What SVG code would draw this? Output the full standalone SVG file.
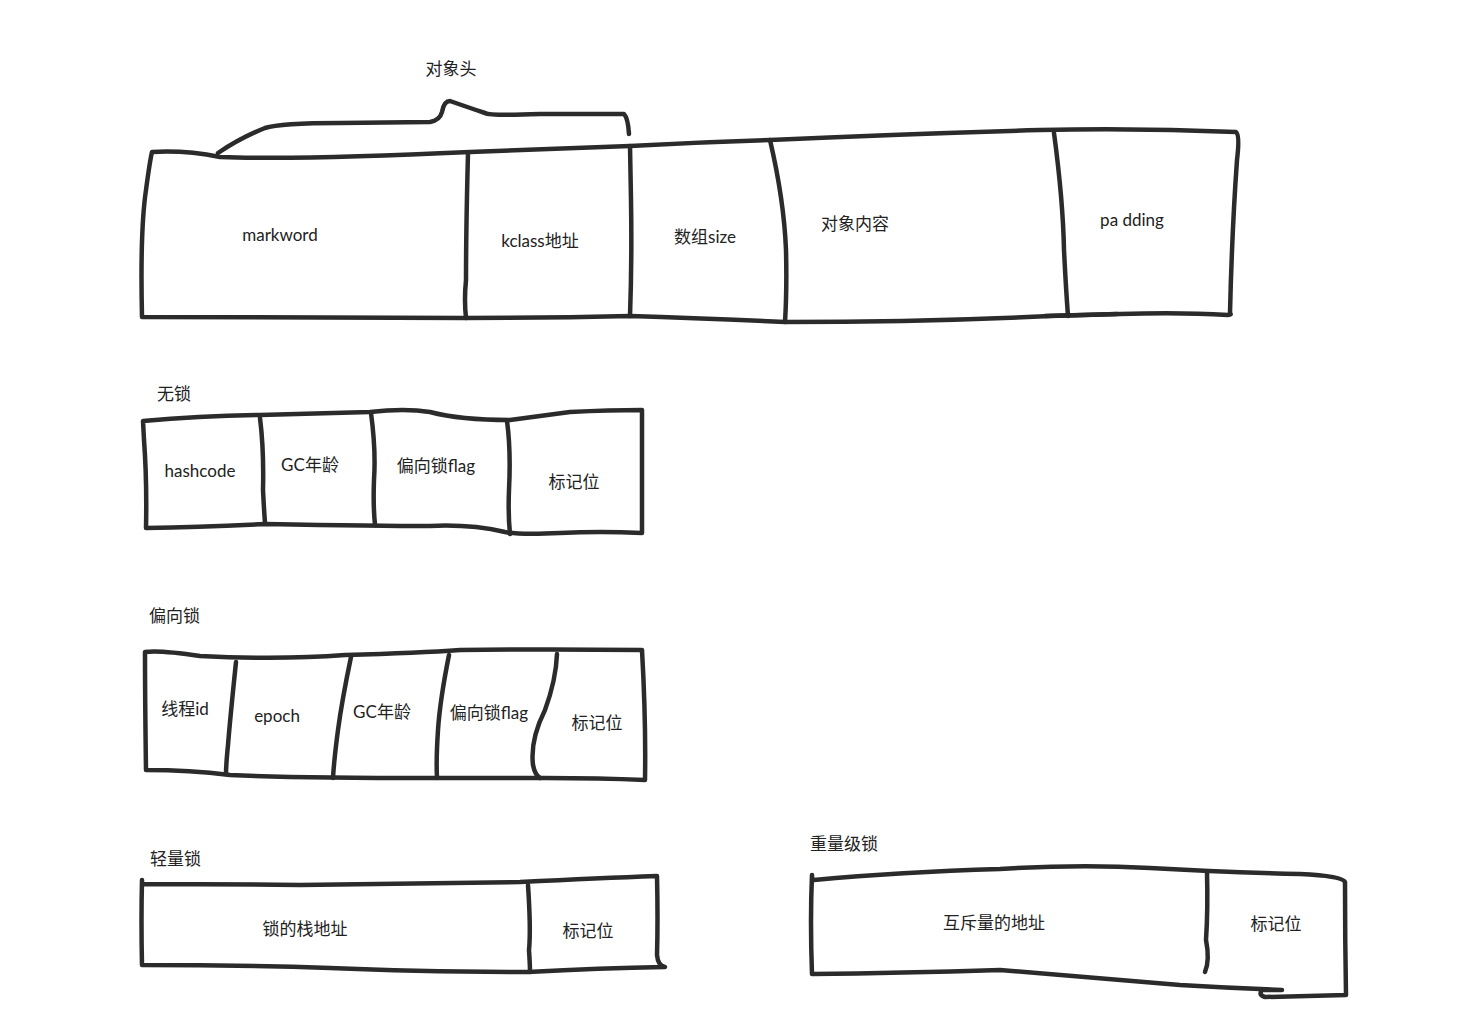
<svg xmlns="http://www.w3.org/2000/svg" width="1460" height="1033" viewBox="0 0 1460 1033">
<style>
.s{fill:none;stroke:#2b2b2b;stroke-width:4.5;stroke-linecap:round;stroke-linejoin:round}
.t{font-family:Lato,"Noto Sans CJK SC",sans-serif;font-size:17px;fill:#222;text-anchor:middle;dominant-baseline:central}
.l{font-family:Lato,"Noto Sans CJK SC",sans-serif;font-size:17px;fill:#222;dominant-baseline:central}
</style>
<rect width="1460" height="1033" fill="#fff"/>
<g id="object-header">
<path class="s" d="M218,153 Q240,138 265,128 Q280,123 340,123 L430,122 Q440,120 442,112 Q444,101 450,101 Q470,108 485,113 Q490,116 540,114 L624,114 Q628,118 629,134"/>
<text class="t" x="451" y="68">对象头</text>
</g>
<g id="object-layout">
<path class="s" d="M152,152 Q185,150 220,157 Q300,160 470,152 Q550,149 630,146 Q700,142 770,140 Q900,134 1040,130 Q1140,128 1236,132 Q1240,135 1237,160 Q1232,230 1230,313 Q1232,315 1228,315 Q1180,312 1120,314 L1050,316 Q920,322 785,322 Q700,318 630,316 Q550,318 465,318 L142,317 Q140,230 146,190 Q150,160 152,152 Z"/>
<path class="s" d="M468,153 Q466,230 466,280 Q464,300 466,318"/>
<path class="s" d="M630,146 L631,200 Q632,260 630,316"/>
<path class="s" d="M770,140 Q784,200 786,250 Q787,290 785,322"/>
<path class="s" d="M1054,133 Q1063,200 1064,250 Q1066,290 1068,316"/>
<path class="s" d="M1045,316 L1117,314"/>
<text class="t" x="280" y="234">markword</text>
<text class="t" x="540" y="240">kclass地址</text>
<text class="t" x="705" y="236">数组size</text>
<text class="t" x="855" y="223">对象内容</text>
<text class="t" x="1132" y="219">pa dding</text>
</g>
<g id="no-lock">
<text class="l" x="157" y="393">无锁</text>
<path class="s" d="M143,421 Q200,416 260,415 Q330,413 370,412 Q405,408 430,412 Q460,420 510,420 Q540,416 570,412 Q610,410 642,410 L642,533 Q600,531 560,533 Q520,535 505,532 Q470,524 430,526 Q380,526 265,524 Q200,527 146,528 Q147,480 144,440 Z"/>
<path class="s" d="M260,418 Q264,450 263,490 Q264,510 265,523"/>
<path class="s" d="M371,413 Q376,450 374,480 Q373,505 375,525"/>
<path class="s" d="M507,421 Q511,450 509,490 Q508,515 510,534"/>
<text class="t" x="200" y="470">hashcode</text>
<text class="t" x="310" y="464">GC年龄</text>
<text class="t" x="436" y="465">偏向锁flag</text>
<text class="t" x="574" y="481">标记位</text>
</g>
<g id="biased-lock">
<text class="l" x="149" y="615">偏向锁</text>
<path class="s" d="M145,652 Q160,650 200,656 Q280,660 345,655 Q420,653 460,650 Q550,649 642,650 Q646,720 645,780 Q600,778 545,778 L430,778 Q300,778 230,775 Q190,770 146,770 Q145,700 145,652 Z"/>
<path class="s" d="M236,662 Q230,720 228,745 Q226,765 226,774"/>
<path class="s" d="M351,657 Q342,700 338,730 Q334,760 333,778"/>
<path class="s" d="M449,655 Q440,700 438,730 Q436,760 437,778"/>
<path class="s" d="M557,654 Q556,680 545,710 Q530,740 533,765 Q535,775 540,778"/>
<text class="t" x="185" y="708">线程id</text>
<text class="t" x="277" y="715">epoch</text>
<text class="t" x="382" y="711">GC年龄</text>
<text class="t" x="489" y="712">偏向锁flag</text>
<text class="t" x="597" y="722">标记位</text>
</g>
<g id="lightweight-lock">
<text class="l" x="150" y="858">轻量锁</text>
<path class="s" d="M142,880 L142,884 Q220,884 300,885 Q420,883 520,882 Q600,878 657,876 Q658,920 657,955 Q658,966 665,967 Q600,968 528,972 Q420,972 330,968 Q240,965 142,965 Q141,920 142,880"/>
<path class="s" d="M528,885 Q531,930 529,950 Q530,965 530,972"/>
<text class="t" x="305" y="928">锁的栈地址</text>
<text class="t" x="588" y="930">标记位</text>
</g>
<g id="heavyweight-lock">
<text class="l" x="810" y="843">重量级锁</text>
<path class="s" d="M812,875 Q812,880 814,880 Q900,872 1000,869 Q1080,864 1150,868 Q1220,872 1300,874 Q1342,876 1345,882 Q1345,940 1346,995 Q1300,996 1265,997 Q1258,995 1262,990 L1282,990 Q1230,988 1180,985 Q1100,978 1000,970 Q900,973 812,974 Q810,920 812,875"/>
<path class="s" d="M1207,872 Q1208,910 1206,940 Q1210,960 1205,972"/>
<text class="t" x="994" y="922">互斥量的地址</text>
<text class="t" x="1276" y="923">标记位</text>
</g>
<g id="connectors"></g>
</svg>
